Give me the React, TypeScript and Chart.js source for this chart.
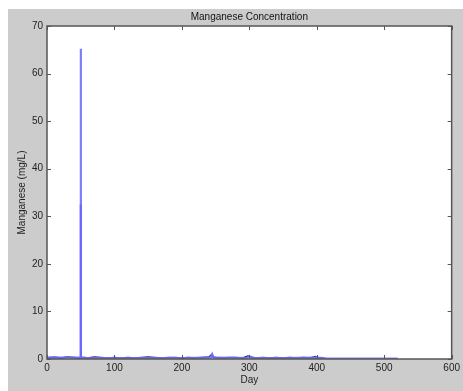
import React, { useEffect, useRef } from "react";
import { Chart, registerables } from "chart.js";

Chart.register(...registerables);

const titleText = "Manganese Concentration";
const xLabel = "Day";
const yLabel = "Manganese (mg/L)";
const xTicks = [0, 100, 200, 300, 400, 500, 600];
const yTicks = [0, 10, 20, 30, 40, 50, 60, 70];

// light blue trace (full record, includes the 65 mg/L spike)
const lightDays = [0, 10, 20, 30, 40, 48, 49.6, 50, 50.4, 52, 60, 80, 100, 150, 200, 240, 243, 245, 247, 250, 296, 300, 304, 350, 400, 410, 415, 450, 500, 520];
const lightVals = [0.3, 0.4, 0.3, 0.3, 0.3, 0.3, 0.3, 65.2, 0.3, 0.3, 0.2, 0.2, 0.2, 0.2, 0.2, 0.3, 0.3, 1.0, 0.3, 0.3, 0.2, 0.6, 0.2, 0.2, 0.3, 0.2, 0.1, 0.1, 0.1, 0.1];

// mid blue trace (second reading at the spike)
const midDays = [49.6, 50, 50.4];
const midVals = [0.3, 32.5, 0.3];

// dark trace (routine readings)
const darkDays = [0, 10, 20, 30, 40, 45, 55, 60, 70, 80, 90, 100, 110, 120, 130, 140, 150, 160, 170, 180, 190, 200, 210, 220, 230, 240, 244, 246, 250, 260, 270, 280, 290, 298, 302, 310, 320, 330, 340, 350, 360, 370, 380, 390, 398, 402, 410];
const darkVals = [0.2, 0.3, 0.2, 0.4, 0.3, 0.2, 0.3, 0.2, 0.4, 0.3, 0.2, 0.3, 0.2, 0.3, 0.2, 0.3, 0.4, 0.3, 0.2, 0.3, 0.3, 0.2, 0.3, 0.2, 0.3, 0.4, 0.9, 0.4, 0.3, 0.2, 0.3, 0.3, 0.2, 0.6, 0.4, 0.2, 0.3, 0.2, 0.3, 0.2, 0.3, 0.2, 0.3, 0.2, 0.5, 0.2, 0.2];

const frameColor = "#555555";
const bgColor = "#cccccc";

const framePlugin = {
  id: "matlabFrame",
  beforeDraw(chart: any) {
    const { ctx, width, height, chartArea } = chart;
    ctx.save();
    ctx.fillStyle = bgColor;
    ctx.fillRect(0, 0, width, height);
    ctx.fillStyle = "#ffffff";
    ctx.fillRect(chartArea.left, chartArea.top, chartArea.right - chartArea.left, chartArea.bottom - chartArea.top);
    ctx.fillStyle = "#111111";
    ctx.font = "10px Arial, 'Liberation Sans', sans-serif";
    ctx.textAlign = "center";
    ctx.textBaseline = "middle";
    ctx.fillText(titleText, (chartArea.left + chartArea.right) / 2, 8);
    ctx.restore();
  },
  afterDatasetsDraw(chart: any) {
    const { ctx, chartArea, scales } = chart;
    const { left, right, top, bottom } = chartArea;
    ctx.save();
    ctx.strokeStyle = frameColor;
    ctx.lineWidth = 1;
    const tl = 4;
    ctx.beginPath();
    xTicks.forEach((v) => {
      const px = Math.round(scales.x.getPixelForValue(v)) + 0.5;
      ctx.moveTo(px, bottom);
      ctx.lineTo(px, bottom - tl);
      ctx.moveTo(px, top);
      ctx.lineTo(px, top + tl);
    });
    yTicks.forEach((v) => {
      const py = Math.round(scales.y.getPixelForValue(v)) + 0.5;
      ctx.moveTo(left, py);
      ctx.lineTo(left + tl, py);
      ctx.moveTo(right, py);
      ctx.lineTo(right - tl, py);
    });
    ctx.stroke();
    ctx.lineWidth = 1.5;
    ctx.strokeRect(left, top, right - left, bottom - top);
    ctx.restore();
  },
};

const toPts = (xs: number[], ys: number[]) => xs.map((x, i) => ({ x, y: ys[i] }));

export default function App() {
  const ref = useRef<HTMLCanvasElement | null>(null);
  useEffect(() => {
    if (!ref.current) return;
    const tickFont = { family: "Arial, 'Liberation Sans', sans-serif", size: 10 };
    const chart = new Chart(ref.current, {
      type: "line",
      data: {
        datasets: [
          {
            data: toPts(lightDays, lightVals),
            borderColor: "rgba(110,110,255,0.9)",
            borderWidth: 2.2,
            pointRadius: 0,
            tension: 0,
          },
          {
            data: toPts(midDays, midVals),
            borderColor: "#4646ff",
            borderWidth: 2.2,
            pointRadius: 0,
            tension: 0,
          },
          {
            data: toPts(darkDays, darkVals),
            borderColor: "#262670",
            borderWidth: 1.5,
            pointRadius: 0,
            tension: 0,
          },
        ],
      },
      options: {
        responsive: false,
        animation: false,
        devicePixelRatio: 1,
        layout: { padding: { top: 17, right: 11, left: 0, bottom: 0 } },
        plugins: { legend: { display: false }, title: { display: false }, tooltip: { enabled: false } },
        scales: {
          x: {
            type: "linear",
            min: 0,
            max: 600,
            afterFit: (s: any) => { s.height = 32; },
            afterBuildTicks: (s: any) => { s.ticks = xTicks.map((v) => ({ value: v })); },
            grid: { display: false, drawTicks: false },
            border: { display: false },
            ticks: { color: "#222", font: tickFont, padding: 3, maxRotation: 0 },
            title: { display: true, text: xLabel, color: "#222", font: tickFont, padding: { top: 0, bottom: 5 } },
          },
          y: {
            type: "linear",
            min: 0,
            max: 70,
            afterFit: (s: any) => { s.width = 39; },
            afterBuildTicks: (s: any) => { s.ticks = yTicks.map((v) => ({ value: v })); },
            grid: { display: false, drawTicks: false },
            border: { display: false },
            ticks: { color: "#222", font: tickFont, padding: 4 },
            title: { display: true, text: yLabel, color: "#222", font: tickFont, padding: { top: 8, bottom: 0 } },
          },
        },
      },
      plugins: [framePlugin],
    } as any);
    return () => chart.destroy();
  }, []);
  return (
    <div style={{ position: "fixed", left: 8, top: 9, width: 455, height: 382 }}>
      <canvas ref={ref} width={455} height={382} style={{ display: "block", width: 455, height: 382 }} />
    </div>
  );
}
